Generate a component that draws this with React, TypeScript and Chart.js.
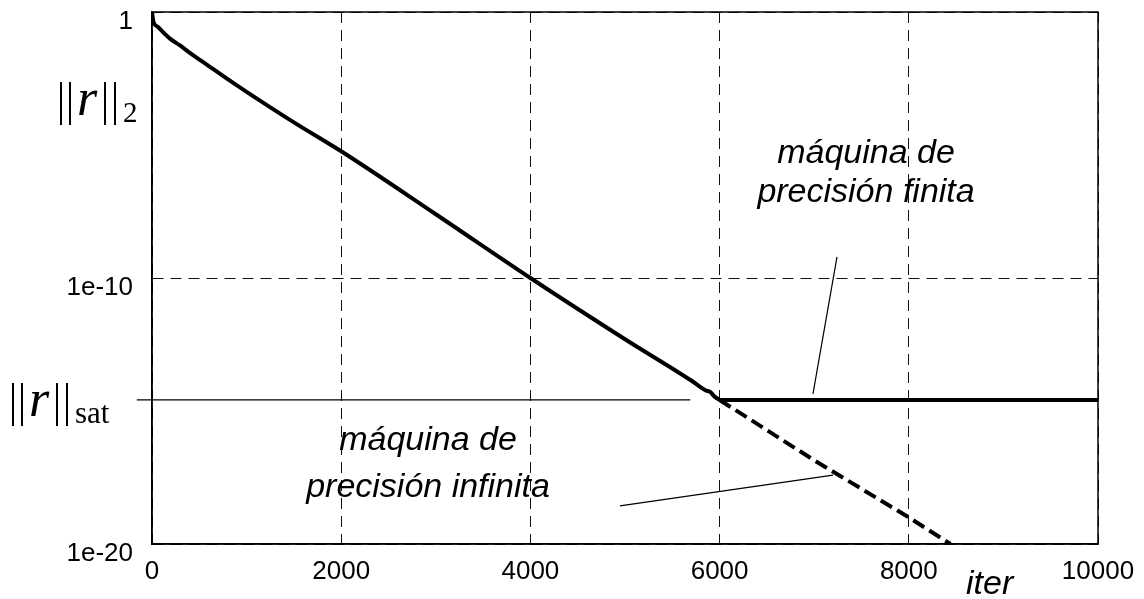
import React, { useEffect, useRef } from 'react';
import { Chart, registerables } from 'chart.js';

Chart.register(...registerables);

// ---- data ----
const iterMain = [0, 15, 60, 120, 190, 300, 400, 600, 800, 1000, 1500, 2000, 3000, 4000, 5000, 5700, 5850, 5900, 5950, 6000];
const residMain = [1, 0.43, 0.28, 0.17, 0.1, 0.054, 0.029, 9.3e-3, 3.0e-3, 1.0e-3, 7.1e-5, 5.8e-6, 2.5e-8, 1.0e-10, 5.0e-13, 1.4e-14, 6.0e-15, 5.2e-15, 3.4e-15, 2.6e-15];
const satLevel = 2.6e-15;
const iterSat = [6000, 10000];
const iterInf = [6000, 7000, 8000, 8440];
const residInf = [2.6e-15, 1.4e-17, 1.0e-19, 1.0e-20];
const iterSatRef = [-160, 5690];
const ptrFiniteIter = [7241, 6987];
const ptrFiniteVal = [6.2e-10, 4.4e-15];
const ptrInfIter = [4947, 7199];
const ptrInfVal = [2.7e-19, 3.9e-18];
const xTickValues = [0, 2000, 4000, 6000, 8000, 10000];
const xTickLabels = ['0', '2000', '4000', '6000', '8000', '10000'];
const yTickValues = [1, 1e-10, 1e-20];
const yTickLabels = ['1', '1e-10', '1e-20'];
const noteFinite = ['máquina de', 'precisión finita'];
const noteFiniteIter = 7548;
const noteFiniteVals = [2.1e-6, 7.2e-8];
const noteInfinite = ['máquina de', 'precisión infinita'];
const noteInfiniteIter = 2918;
const noteInfiniteVals = [3.4e-17, 5.9e-19];
const xTitle = 'iter';

const zip = (xs: number[], ys: number[]) => xs.map((x, i) => ({ x, y: ys[i] }));

function drawNorm(ctx: CanvasRenderingContext2D, x0: number, top: number, sub: string, subSize: number) {
  ctx.save();
  ctx.strokeStyle = '#000';
  ctx.lineWidth = 2;
  ctx.setLineDash([]);
  const bars = [x0, x0 + 9, x0 + 44, x0 + 54];
  for (const bx of bars) {
    ctx.beginPath();
    ctx.moveTo(bx, top);
    ctx.lineTo(bx, top + 43);
    ctx.stroke();
  }
  ctx.fillStyle = '#000';
  ctx.textAlign = 'left';
  ctx.textBaseline = 'alphabetic';
  ctx.font = 'italic 52px "Liberation Serif", "DejaVu Serif", serif';
  ctx.fillText('r', x0 + 16, top + 33);
  ctx.font = `${subSize}px "Liberation Serif", "DejaVu Serif", serif`;
  ctx.fillText(sub, x0 + 62, top + 40);
  ctx.restore();
}

const decorPlugin = {
  id: 'decor',
  afterDraw(chart: any) {
    const { ctx, chartArea: a, scales } = chart;
    const xs = scales.x;
    const ys = scales.y;
    ctx.save();
    ctx.strokeStyle = '#000';
    ctx.lineWidth = 1.5;
    ctx.setLineDash([]);
    ctx.strokeRect(a.left, a.top, a.right - a.left, a.bottom - a.top);

    ctx.fillStyle = '#000';
    ctx.font = 'italic 34px "Liberation Sans", Arial, sans-serif';
    ctx.textAlign = 'center';
    ctx.textBaseline = 'alphabetic';
    noteFinite.forEach((t, i) => {
      ctx.fillText(t, xs.getPixelForValue(noteFiniteIter), ys.getPixelForValue(noteFiniteVals[i]));
    });
    noteInfinite.forEach((t, i) => {
      ctx.fillText(t, xs.getPixelForValue(noteInfiniteIter), ys.getPixelForValue(noteInfiniteVals[i]));
    });

    ctx.textAlign = 'left';
    ctx.fillText(xTitle, a.right - 132, a.bottom + 50);
    ctx.restore();

    drawNorm(ctx, 61, 82, '2', 29);
    drawNorm(ctx, 13, ys.getPixelForValue(satLevel) - 17, 'sat', 31);
  },
};

export default function App() {
  const ref = useRef<HTMLCanvasElement | null>(null);
  useEffect(() => {
    if (!ref.current) return;
    const black = '#000';
    const tickFont = { family: '"Liberation Sans", Arial, sans-serif', size: 26 };
    const chart = new Chart(ref.current, {
      type: 'line',
      data: {
        datasets: [
          {
            data: zip(iterMain, residMain),
            borderColor: black,
            borderWidth: 4,
            pointRadius: 0,
            cubicInterpolationMode: 'monotone',
          },
          {
            data: zip(iterSat, iterSat.map(() => satLevel)),
            borderColor: black,
            borderWidth: 4,
            pointRadius: 0,
          },
          {
            data: zip(iterInf, residInf),
            borderColor: black,
            borderWidth: 4,
            borderDash: [13, 6],
            pointRadius: 0,
          },
          {
            data: zip(iterSatRef, iterSatRef.map(() => satLevel)),
            borderColor: black,
            borderWidth: 1.2,
            pointRadius: 0,
            clip: false,
          },
          {
            data: zip(ptrFiniteIter, ptrFiniteVal),
            borderColor: black,
            borderWidth: 1.2,
            pointRadius: 0,
            clip: false,
          },
          {
            data: zip(ptrInfIter, ptrInfVal),
            borderColor: black,
            borderWidth: 1.2,
            pointRadius: 0,
            clip: false,
          },
        ] as any,
      },
      options: {
        animation: false,
        responsive: false,
        devicePixelRatio: 1,
        layout: { padding: { left: 0, right: 46, top: 12, bottom: 0 } },
        plugins: { legend: { display: false }, tooltip: { enabled: false } },
        scales: {
          x: {
            type: 'linear',
            min: 0,
            max: 10000,
            afterFit: (s: any) => {
              s.height = 55;
              s.paddingLeft = 0;
              s.paddingRight = 0;
            },
            afterBuildTicks: (s: any) => {
              s.ticks = xTickValues.map((v) => ({ value: v }));
            },
            ticks: {
              padding: 12,
              color: '#000',
              maxRotation: 0,
              autoSkip: false,
              font: tickFont,
              callback: (v: any) => {
                const i = xTickValues.indexOf(Number(v));
                return i >= 0 ? xTickLabels[i] : '';
              },
            },
            grid: { color: '#111', lineWidth: 1, drawTicks: false },
            border: { display: true, color: '#000', width: 1.5, dash: [11, 7] },
          },
          y: {
            type: 'logarithmic',
            min: 1e-20,
            max: 1,
            afterFit: (s: any) => {
              s.width = 152;
              s.paddingTop = 0;
              s.paddingBottom = 0;
            },
            afterBuildTicks: (s: any) => {
              s.ticks = yTickValues.map((v) => ({ value: v }));
            },
            ticks: {
              padding: 19,
              labelOffset: 10,
              color: '#000',
              autoSkip: false,
              font: tickFont,
              callback: (v: any) => {
                const i = yTickValues.findIndex((t) => Math.abs(Math.log10(t) - Math.log10(Number(v))) < 1e-6);
                return i >= 0 ? yTickLabels[i] : '';
              },
            },
            grid: { color: '#111', lineWidth: 1, drawTicks: false },
            border: { display: true, color: '#000', width: 1.5, dash: [11, 7] },
          },
        },
      } as any,
      plugins: [decorPlugin],
    });
    return () => chart.destroy();
  }, []);

  return (
    <div style={{ position: 'absolute', left: 0, top: 0, width: 1144, height: 599, background: '#fff' }}>
      <canvas ref={ref} width={1144} height={599} style={{ width: 1144, height: 599, display: 'block' }} />
    </div>
  );
}
